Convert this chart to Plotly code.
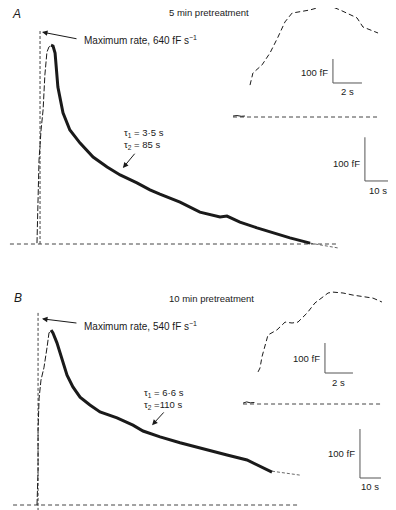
import plotly.graph_objects as go

# page offset: the page body adds an 8 px margin, so the figure is drawn 8 px smaller
OFF = 8
W, H = 396 - OFF, 510 - OFF

# ---------------- Panel A : 5 min pretreatment ----------------
# main trace, time (s) vs capacitance (fF)
a_rise_t = [-0.4, 0.4, 1.2, 2.0, 2.7, 3.5, 4.3, 5.1]
a_rise_f = [2, 192, 261, 307, 387, 439, 451, 455]
a_decay_t = [5.1, 5.9, 6.7, 7.8, 9.8, 12.5, 16.5, 21.6, 27.1, 32.2, 38.8, 43.9, 47.8,
             55.7, 63.5, 71.4, 74.1, 79.2, 85.9, 92.2, 98.8, 106.7]
a_decay_f = [455, 453, 437, 359, 300, 261, 231, 199, 176, 158, 140, 124, 114,
             96, 73, 62, 64, 50, 37, 25, 14, 2]
a_fit_t = [106.7, 117.6]
a_fit_f = [2, -9]
a_base_t = [-11.0, 117.6]
a_maxrate_t = [0.8, 0.8]
a_maxrate_f = [0, 490]

# inset trace (expanded time scale)
ai_pre_t = [-1.17, -0.9, -0.6, -0.35]
ai_pre_f = [4, 6, 3, 4]
ai_t = [0.0, 0.2, 0.83, 1.38, 1.93, 2.41, 2.9, 3.45, 4.14, 4.83, 5.52, 6.21, 6.9,
        7.38, 7.79, 8.28, 8.83]
ai_f = [133, 183, 217, 267, 333, 396, 433, 438, 446, 458, 463, 446, 425,
        413, 375, 363, 350]
ai_base_t = [-1.17, 8.83]

# ---------------- Panel B : 10 min pretreatment ----------------
b_rise_t = [0.0, 0.5, 0.5, 1.0, 1.9, 3.3, 4.8, 5.7, 6.7]
b_rise_f = [0, 71, 153, 218, 255, 280, 322, 351, 357]
b_decay_t = [6.7, 7.6, 9.5, 11.9, 14.3, 17.1, 20.5, 25.2, 30.0, 38.1, 45.7, 50.5,
             58.6, 68.1, 77.6, 90.5, 100.0, 107.6, 111.9]
b_decay_f = [357, 351, 331, 296, 265, 241, 220, 204, 190, 178, 163, 151,
             139, 127, 116, 102, 92, 76, 67]
b_fit_t = [111.9, 125.2]
b_fit_f = [69, 61]
b_base_t = [-11.4, 124.3]
b_maxrate_t = [0.5, 0.5]
b_maxrate_f = [-12, 392]

bi_pre_t = [-1.21, -0.95, -0.7, -0.4]
bi_pre_f = [3, 7, 4, 5]
bi_t = [-0.14, 0.0, 0.14, 0.57, 1.21, 1.79, 2.29, 2.71, 3.36, 3.93, 4.5, 4.86,
        5.21, 5.93, 6.64, 7.36, 8.07, 8.71]
bi_f = [107, 120, 157, 230, 247, 273, 270, 273, 303, 337, 357, 370,
        373, 370, 363, 357, 353, 340]
bi_base_t = [-1.21, 8.79]

# scale bars: (time length, capacitance length)
a_main_bar = dict(t0=128.2, f0=144.2, dt=10, df=100)
a_ins_bar = dict(t0=5.72, f0=141.7, dt=2, df=100)
b_main_bar = dict(t0=153.8, f0=55.1, dt=10, df=100)
b_ins_bar = dict(t0=4.64, f0=103.3, dt=2, df=100)

# ---------------- axis calibration (page pixel origin, px per unit) ----------------
def xr(px0, ppu):
    p = px0 - OFF
    return [(0 - p) / ppu, (W - p) / ppu]

def yr(py0, ppu):
    p = py0 - OFF
    return [(p - H) / ppu, p / ppu]

def px(x):
    return (x - OFF) / W

def py(y):
    return 1 - (y - OFF) / H

cal = {
    "": (38, 2.55, 244, 0.437),
    "2": (250, 14.5, 117, 0.24),
    "3": (37, 2.1, 505, 0.49),
    "4": (260, 14.0, 404, 0.30),
}

INK = "#1a1a1a"
GREY = "#444444"
FONT = "Liberation Sans, Arial, sans-serif"

fig = go.Figure()

def line(x, y, ax, width=1.0, dash="solid", color=INK):
    fig.add_trace(go.Scatter(x=x, y=y, mode="lines", xaxis="x" + ax, yaxis="y" + ax,
                             line=dict(color=color, width=width, dash=dash),
                             hoverinfo="skip", showlegend=False))

# panel A main
line(a_base_t, [0, 0], "", 1.0, "4px,3px", GREY)
line(a_maxrate_t, a_maxrate_f, "", 1.0, "3px,2px", GREY)
line(a_rise_t, a_rise_f, "", 1.0, "6px,2px")
line(a_decay_t, a_decay_f, "", 3.0)
line(a_fit_t, a_fit_f, "", 0.8, "3px,2px", GREY)
# panel A inset
line(ai_base_t, [0, 0], "2", 1.0, "4px,3px", GREY)
line(ai_pre_t, ai_pre_f, "2", 1.0)
line(ai_t, ai_f, "2", 1.0, "5px,3px")
# panel B main
line(b_base_t, [0, 0], "3", 1.0, "4px,3px", GREY)
line(b_maxrate_t, b_maxrate_f, "3", 1.0, "3px,2px", GREY)
line(b_rise_t, b_rise_f, "3", 1.0, "6px,2px")
line(b_decay_t, b_decay_f, "3", 3.0)
line(b_fit_t, b_fit_f, "3", 0.8, "3px,2px", GREY)
# panel B inset
line(bi_base_t, [0, 0], "4", 1.0, "4px,3px", GREY)
line(bi_pre_t, bi_pre_f, "4", 1.0)
line(bi_t, bi_f, "4", 1.0, "5px,3px")

# scale bars
for ax, bar in (("", a_main_bar), ("2", a_ins_bar), ("3", b_main_bar), ("4", b_ins_bar)):
    line([bar["t0"], bar["t0"], bar["t0"] + bar["dt"]],
         [bar["f0"] + bar["df"], bar["f0"], bar["f0"]], ax, 1.0, "solid", "#555555")

ann = []

def txt(x, y, s, ref="", size=9.5, xa="left", ya="middle", paper=False):
    d = dict(x=x, y=y, text=s, showarrow=False, xanchor=xa, yanchor=ya,
             font=dict(family=FONT, size=size, color=INK))
    if paper:
        d.update(xref="paper", yref="paper")
    else:
        d.update(xref="x" + ref, yref="y" + ref)
    ann.append(d)

def arrow(x, y, axx, ayy, ref=""):
    ann.append(dict(x=x, y=y, ax=axx, ay=ayy, xref="x" + ref, yref="y" + ref,
                    axref="x" + ref, ayref="y" + ref, text="", showarrow=True,
                    arrowhead=2, arrowsize=1.1, arrowwidth=1.0, arrowcolor=INK))

# panel labels / titles (paper)
txt(px(10), py(14), "<i>A</i>", size=12, paper=True)
txt(px(209), py(13), "5 min pretreatment", size=9.5, xa="center", paper=True)
txt(px(12), py(298), "<i>B</i>", size=12, paper=True)
txt(px(211), py(298), "10 min pretreatment", size=9.5, xa="center", paper=True)

# panel A annotations
txt(17.25, 467, "Maximum rate, 640 fF s<sup>−1</sup>", size=10)
arrow(1.57, 485, 15.7, 469)
txt(32.9, 254, "τ<sub>1</sub> = 3·5 s")
txt(32.9, 226, "τ<sub>2</sub> = 85 s")
arrow(33.3, 174, 38.4, 210)
txt(a_main_bar["t0"] - 1.0, a_main_bar["f0"] + 41, "100 fF", xa="right")
txt(a_main_bar["t0"] + 5, a_main_bar["f0"] - 21, "10 s", xa="center")
txt(a_ins_bar["t0"] - 0.2, a_ins_bar["f0"] + 45, "100 fF", "2", xa="right")
txt(a_ins_bar["t0"] + 1, a_ins_bar["f0"] - 36, "2 s", "2", xa="center")

# panel B annotations
txt(21.4, 365, "Maximum rate, 540 fF s<sup>−1</sup>", "3", size=10)
arrow(2.38, 380, 19.5, 371, "3")
txt(50, 229, "τ<sub>1</sub> = 6·6 s", "3")
txt(50, 204, "τ<sub>2</sub> =110 s", "3")
arrow(54.8, 163, 61, 192, "3")
txt(b_main_bar["t0"] - 1.3, b_main_bar["f0"] + 49, "100 fF", "3", xa="right")
txt(b_main_bar["t0"] + 5, b_main_bar["f0"] - 18, "10 s", "3", xa="center")
txt(b_ins_bar["t0"] - 0.2, b_ins_bar["f0"] + 50, "100 fF", "4", xa="right")
txt(b_ins_bar["t0"] + 1, b_ins_bar["f0"] - 30, "2 s", "4", xa="center")

layout = dict(width=W, height=H, margin=dict(l=0, r=0, t=0, b=0),
              paper_bgcolor="white", plot_bgcolor="rgba(0,0,0,0)",
              showlegend=False, annotations=ann)
for k, (px0, ppx, py0, ppy) in cal.items():
    xa = dict(range=xr(px0, ppx), domain=[0, 1], visible=False, fixedrange=True,
              anchor="y" + k)
    ya = dict(range=yr(py0, ppy), domain=[0, 1], visible=False, fixedrange=True,
              anchor="x" + k)
    if k:
        xa["overlaying"] = "x"
        ya["overlaying"] = "y"
    layout["xaxis" + k] = xa
    layout["yaxis" + k] = ya

fig.update_layout(**layout)
fig.write_html("out.html")
